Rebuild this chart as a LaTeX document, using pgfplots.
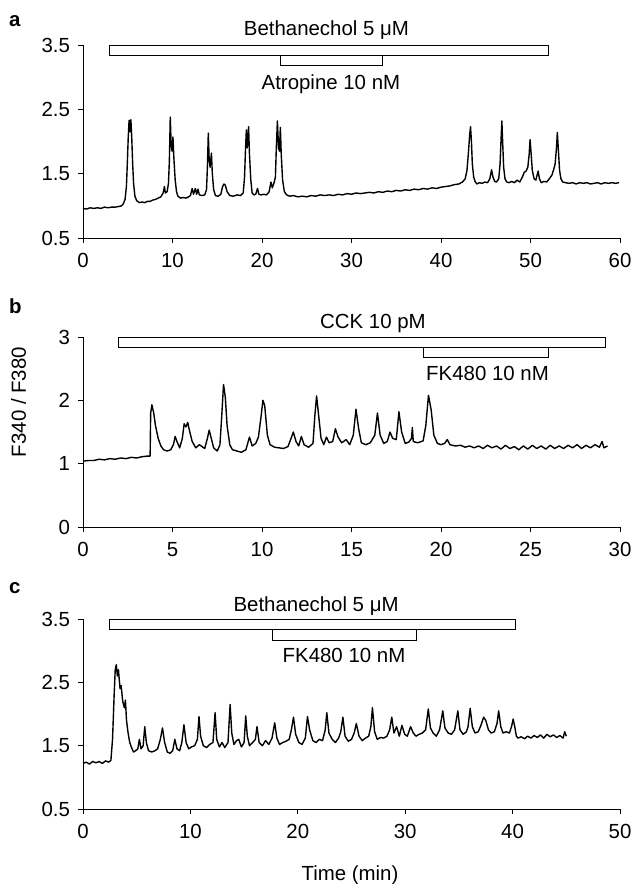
\documentclass[border=0pt]{standalone}
\usepackage{fontspec}
\setmainfont{Liberation Sans}
\usepackage{pgfplots}
\pgfplotsset{compat=1.18}
\begin{document}
\begin{tikzpicture}[x=1bp,y=1bp,font=\fontsize{20.5}{24}\selectfont]
\useasboundingbox (0,0) rectangle (632,-884);
\pgfplotsset{panel/.style={scale only axis, width=537bp, enlargelimits=false,
  axis x line*=bottom, axis y line*=left, tick align=outside, major tick length=5bp,
  every tick/.style={black, line width=0.8pt}, axis line style={black, line width=0.8pt},
  clip=false, /pgf/number format/assume math mode=true,
  tick label style={font=\fontsize{20.5}{24}\selectfont},
  xticklabel style={yshift=-7bp}, yticklabel style={xshift=-4.5bp},
  trace/.style={black, line width=1.4pt, line join=round, mark=none},
  bar/.style={draw=black, fill=white, line width=0.8pt, mark=none}}}
% ---------------- panel a
\begin{axis}[panel, at={(83bp,-238bp)}, anchor=south west, height=193bp,
  xmin=0, xmax=60, ymin=0.5, ymax=3.5,
  xtick={0,10,20,30,40,50,60}, xticklabels={0,10,20,30,40,50,60},
  ytick={0.5,1.5,2.5,3.5}, yticklabels={0.5,1.5,2.5,3.5}]
\addplot[trace] coordinates {
(0,0.96) (0.4,0.95) (0.8,0.97) (1.2,0.96) (1.6,0.97) (2.0,0.96) (2.4,0.98) (2.8,0.97) (3.2,0.98) (3.6,0.98) (4.0,0.99) (4.3,1.00) (4.5,1.03) (4.7,1.10) (4.85,1.30) (4.95,1.65) (5.05,2.05) (5.15,2.33) (5.25,2.15) (5.35,2.34) (5.45,2.05) (5.55,1.65) (5.65,1.35) (5.8,1.15) (6.0,1.08) (6.3,1.05) (6.6,1.06) (6.9,1.05) (7.2,1.07) (7.5,1.07) (7.8,1.09) (8.1,1.10) (8.4,1.12) (8.7,1.14) (8.95,1.20) (9.1,1.30) (9.2,1.20) (9.4,1.22) (9.55,1.35) (9.65,1.70) (9.75,2.38) (9.85,1.95) (9.95,1.85) (10.05,2.07) (10.15,1.75) (10.3,1.40) (10.45,1.22) (10.6,1.15) (10.9,1.12) (11.2,1.13) (11.5,1.12) (11.8,1.14) (12.0,1.16) (12.2,1.27) (12.35,1.18) (12.55,1.27) (12.7,1.18) (12.85,1.26) (13.0,1.17) (13.3,1.16) (13.6,1.17) (13.8,1.25) (13.9,1.60) (14.0,2.13) (14.1,1.70) (14.2,1.60) (14.35,1.82) (14.45,1.50) (14.6,1.25) (14.8,1.16) (15.1,1.15) (15.4,1.18) (15.6,1.30) (15.75,1.34) (15.9,1.32) (16.1,1.22) (16.4,1.16) (16.8,1.15) (17.2,1.17) (17.6,1.16) (17.9,1.20) (18.05,1.45) (18.15,1.85) (18.25,2.18) (18.35,1.90) (18.5,2.23) (18.6,1.80) (18.75,1.40) (18.9,1.20) (19.1,1.17) (19.3,1.18) (19.5,1.27) (19.65,1.18) (19.9,1.17) (20.2,1.18) (20.5,1.17) (20.8,1.22) (21.0,1.37) (21.15,1.28) (21.35,1.36) (21.5,1.45) (21.6,1.90) (21.72,2.32) (21.85,1.90) (21.95,1.85) (22.05,2.22) (22.15,1.80) (22.3,1.40) (22.5,1.22) (22.75,1.17) (23.1,1.15) (23.5,1.16) (24.0,1.14) (24.5,1.15) (25,1.14) (25.5,1.16) (26,1.15) (26.5,1.17) (27,1.16) (27.5,1.17) (28,1.16) (28.5,1.18) (29,1.17) (29.5,1.19) (30,1.18) (30.5,1.20) (31,1.19) (31.5,1.20) (32,1.21) (32.5,1.20) (33,1.22) (33.5,1.21) (34,1.23) (34.5,1.22) (35,1.24) (35.5,1.23) (36,1.25) (36.5,1.24) (37,1.26) (37.5,1.25) (38,1.27) (38.5,1.26) (39,1.28) (39.5,1.27) (40,1.29) (40.5,1.30) (41,1.31) (41.5,1.33) (42,1.34) (42.4,1.37) (42.7,1.42) (42.9,1.55) (43.05,1.80) (43.2,2.10) (43.3,2.23) (43.4,2.00) (43.5,1.65) (43.65,1.45) (43.8,1.38) (44.0,1.34) (44.3,1.36) (44.6,1.35) (44.9,1.37) (45.2,1.36) (45.45,1.42) (45.65,1.56) (45.8,1.45) (46.0,1.38) (46.2,1.37) (46.45,1.42) (46.6,1.65) (46.7,2.00) (46.8,2.32) (46.9,1.95) (47.0,1.60) (47.15,1.42) (47.35,1.37) (47.6,1.36) (47.9,1.38) (48.2,1.36) (48.5,1.40) (48.8,1.37) (49.1,1.45) (49.3,1.52) (49.5,1.54) (49.7,1.60) (49.85,1.80) (49.95,2.03) (50.05,1.85) (50.2,1.55) (50.4,1.42) (50.6,1.40) (50.85,1.54) (51.0,1.42) (51.2,1.36) (51.5,1.38) (51.8,1.37) (52.1,1.42) (52.4,1.48) (52.6,1.57) (52.75,1.65) (52.9,1.90) (53.0,2.14) (53.1,1.90) (53.25,1.55) (53.4,1.42) (53.6,1.37) (53.9,1.36) (54.3,1.35) (54.7,1.36) (55.1,1.34) (55.5,1.36) (55.9,1.35) (56.3,1.36) (56.7,1.34) (57.1,1.35) (57.5,1.36) (57.9,1.34) (58.3,1.36) (58.7,1.35) (59.1,1.36) (59.5,1.35) (59.9,1.36)
};
\addplot[bar] coordinates {(22,3.19) (33.5,3.19) (33.5,3.34) (22,3.34)} -- cycle;
\addplot[bar] coordinates {(3,3.34) (52,3.34) (52,3.5) (3,3.5)} -- cycle;
\node[anchor=base] at (axis cs:27.2,3.645) {Bethanechol 5 μM};
\node[anchor=base] at (axis cs:27.7,2.81) {Atropine 10 nM};
\end{axis}
% ---------------- panel b
\begin{axis}[panel, at={(83bp,-527bp)}, anchor=south west, height=190bp,
  xmin=0, xmax=30, ymin=0, ymax=3,
  xtick={0,5,10,15,20,25,30}, xticklabels={0,5,10,15,20,25,30},
  ytick={0,1,2,3}, yticklabels={0,1,2,3}]
\addplot[trace] coordinates {
(0,1.04) (0.3,1.05) (0.6,1.05) (0.9,1.07) (1.2,1.06) (1.5,1.08) (1.8,1.07) (2.1,1.09) (2.4,1.08) (2.7,1.10) (3.0,1.09) (3.3,1.11) (3.6,1.12) (3.75,1.12) (3.78,1.80) (3.85,1.93) (3.95,1.80) (4.05,1.60) (4.2,1.40) (4.35,1.28) (4.5,1.22) (4.7,1.20) (4.9,1.22) (5.05,1.30) (5.15,1.43) (5.25,1.35) (5.4,1.25) (5.55,1.40) (5.65,1.63) (5.75,1.58) (5.85,1.65) (5.95,1.52) (6.1,1.35) (6.3,1.25) (6.5,1.30) (6.65,1.27) (6.8,1.24) (6.95,1.40) (7.05,1.53) (7.15,1.42) (7.3,1.25) (7.5,1.20) (7.65,1.30) (7.75,1.75) (7.85,2.25) (7.95,2.05) (8.05,1.60) (8.2,1.30) (8.35,1.22) (8.6,1.20) (8.85,1.18) (9.1,1.22) (9.3,1.42) (9.45,1.28) (9.65,1.32) (9.8,1.42) (9.95,1.75) (10.05,2.00) (10.15,1.92) (10.3,1.45) (10.45,1.30) (10.7,1.26) (10.95,1.25) (11.2,1.24) (11.45,1.27) (11.65,1.42) (11.75,1.50) (11.9,1.35) (12.05,1.28) (12.2,1.43) (12.35,1.30) (12.6,1.26) (12.85,1.32) (12.95,1.75) (13.05,2.07) (13.15,1.80) (13.3,1.40) (13.45,1.30) (13.6,1.42) (13.75,1.33) (13.95,1.35) (14.1,1.55) (14.25,1.42) (14.45,1.33) (14.7,1.38) (14.9,1.30) (15.1,1.45) (15.25,1.86) (15.4,1.55) (15.55,1.33) (15.8,1.30) (16.05,1.33) (16.3,1.45) (16.45,1.80) (16.6,1.45) (16.8,1.32) (17.0,1.35) (17.15,1.50) (17.3,1.40) (17.5,1.38) (17.65,1.82) (17.8,1.50) (18.0,1.32) (18.2,1.34) (18.35,1.40) (18.4,1.57) (18.45,1.35) (18.7,1.33) (19.0,1.36) (19.15,1.60) (19.3,2.08) (19.45,1.85) (19.6,1.45) (19.8,1.32) (20.0,1.30) (20.2,1.32) (20.35,1.38) (20.5,1.30) (20.8,1.28) (21.1,1.29) (21.35,1.26) (21.6,1.28) (21.85,1.25) (22.1,1.28) (22.35,1.24) (22.6,1.29) (22.85,1.25) (23.1,1.28) (23.35,1.23) (23.6,1.29) (23.85,1.24) (24.1,1.27) (24.35,1.22) (24.6,1.28) (24.85,1.23) (25.1,1.29) (25.35,1.24) (25.6,1.28) (25.85,1.23) (26.1,1.29) (26.35,1.24) (26.6,1.28) (26.85,1.24) (27.1,1.29) (27.35,1.25) (27.6,1.30) (27.85,1.24) (28.1,1.29) (28.35,1.25) (28.6,1.30) (28.85,1.26) (29.0,1.35) (29.1,1.25) (29.3,1.28)
};
\addplot[bar] coordinates {(19,2.68) (26,2.68) (26,2.84) (19,2.84)} -- cycle;
\addplot[bar] coordinates {(2,2.84) (29.2,2.84) (29.2,3) (2,3)} -- cycle;
\node[anchor=base] at (axis cs:16.2,3.14) {CCK 10 pM};
\node[anchor=base] at (axis cs:22.6,2.32) {FK480 10 nM};
\end{axis}
% ---------------- panel c
\begin{axis}[panel, at={(83bp,-809bp)}, anchor=south west, height=190bp,
  xmin=0, xmax=50, ymin=0.5, ymax=3.5,
  xtick={0,10,20,30,40,50}, xticklabels={0,10,20,30,40,50},
  ytick={0.5,1.5,2.5,3.5}, yticklabels={0.5,1.5,2.5,3.5}]
\addplot[trace] coordinates {
(0,1.22) (0.3,1.24) (0.6,1.21) (0.9,1.25) (1.2,1.23) (1.5,1.25) (1.8,1.22) (2.1,1.26) (2.4,1.24) (2.6,1.27) (2.75,1.60) (2.9,2.30) (3.0,2.70) (3.1,2.78) (3.2,2.60) (3.3,2.70) (3.45,2.40) (3.55,2.45) (3.7,2.20) (3.85,2.10) (3.95,2.22) (4.05,1.90) (4.2,1.70) (4.35,1.55) (4.5,1.48) (4.7,1.40) (4.9,1.42) (5.1,1.45) (5.25,1.60) (5.4,1.45) (5.6,1.50) (5.75,1.80) (5.9,1.55) (6.1,1.42) (6.4,1.40) (6.7,1.42) (6.95,1.45) (7.2,1.60) (7.4,1.78) (7.6,1.55) (7.85,1.40) (8.1,1.38) (8.35,1.42) (8.55,1.60) (8.75,1.45) (9.0,1.42) (9.2,1.55) (9.4,1.83) (9.6,1.55) (9.85,1.45) (10.1,1.48) (10.4,1.50) (10.65,1.60) (10.8,1.96) (10.95,1.65) (11.2,1.50) (11.5,1.47) (11.8,1.52) (12.1,1.55) (12.3,2.02) (12.45,1.60) (12.7,1.48) (12.95,1.55) (13.2,1.47) (13.5,1.55) (13.7,2.15) (13.85,1.70) (14.05,1.52) (14.3,1.58) (14.5,1.60) (14.75,1.48) (15.0,1.55) (15.15,1.97) (15.3,1.65) (15.5,1.50) (15.8,1.55) (16.05,1.60) (16.2,1.80) (16.4,1.55) (16.7,1.50) (17.0,1.58) (17.3,1.52) (17.6,1.62) (17.85,1.86) (18.05,1.62) (18.3,1.52) (18.6,1.55) (18.9,1.57) (19.2,1.60) (19.4,1.75) (19.6,1.95) (19.8,1.68) (20.1,1.55) (20.4,1.52) (20.7,1.62) (20.9,1.96) (21.1,1.75) (21.4,1.58) (21.7,1.55) (22.0,1.60) (22.3,1.58) (22.55,1.75) (22.7,2.02) (22.9,1.70) (23.2,1.60) (23.5,1.55) (23.8,1.62) (24.0,1.72) (24.2,1.95) (24.4,1.65) (24.7,1.57) (25.0,1.60) (25.25,1.70) (25.45,1.85) (25.7,1.65) (26.0,1.58) (26.3,1.62) (26.6,1.65) (26.8,1.80) (26.95,2.10) (27.15,1.72) (27.4,1.60) (27.7,1.63) (28.0,1.62) (28.3,1.65) (28.55,1.75) (28.75,1.95) (28.95,1.70) (29.2,1.80) (29.45,1.65) (29.7,1.82) (29.95,1.68) (30.2,1.65) (30.5,1.80) (30.75,1.70) (31.0,1.65) (31.3,1.68) (31.6,1.70) (31.9,1.75) (32.15,2.08) (32.35,1.78) (32.6,1.70) (32.9,1.65) (33.2,1.75) (33.5,2.05) (33.7,1.78) (34.0,1.70) (34.3,1.68) (34.6,1.75) (34.9,2.05) (35.1,1.75) (35.4,1.68) (35.7,1.72) (35.85,1.80) (36.05,2.09) (36.25,1.80) (36.5,1.70) (36.8,1.72) (37.05,1.82) (37.3,1.95) (37.5,1.90) (37.75,1.75) (38.0,1.70) (38.3,1.72) (38.55,1.85) (38.7,2.05) (38.9,1.80) (39.1,1.70) (39.4,1.72) (39.7,1.70) (39.9,1.80) (40.05,1.92) (40.2,1.80) (40.35,1.65) (40.5,1.62) (40.8,1.64) (41.1,1.61) (41.4,1.65) (41.7,1.62) (42.0,1.66) (42.3,1.63) (42.6,1.67) (42.9,1.62) (43.2,1.68) (43.5,1.64) (43.8,1.67) (44.1,1.63) (44.4,1.66) (44.7,1.62) (44.85,1.72) (45.0,1.65)
};
\addplot[bar] coordinates {(17.6,3.17) (31,3.17) (31,3.34) (17.6,3.34)} -- cycle;
\addplot[bar] coordinates {(2.5,3.34) (40.3,3.34) (40.3,3.5) (2.5,3.5)} -- cycle;
\node[anchor=base] at (axis cs:21.7,3.615) {Bethanechol 5 μM};
\node[anchor=base] at (axis cs:24.3,2.81) {FK480 10 nM};
\end{axis}
% ---------------- outer labels
\node[anchor=base west, inner sep=0, font=\fontsize{20.5}{24}\selectfont\bfseries] at (9,-26) {a};
\node[anchor=base west, inner sep=0, font=\fontsize{20.5}{24}\selectfont\bfseries] at (9,-313) {b};
\node[anchor=base west, inner sep=0, font=\fontsize{20.5}{24}\selectfont\bfseries] at (9,-593) {c};
\node[rotate=90, inner sep=0] at (18.5,-402) {F340 / F380};
\node[anchor=base, inner sep=0] at (350,-880) {Time (min)};
\end{tikzpicture}
\end{document}
